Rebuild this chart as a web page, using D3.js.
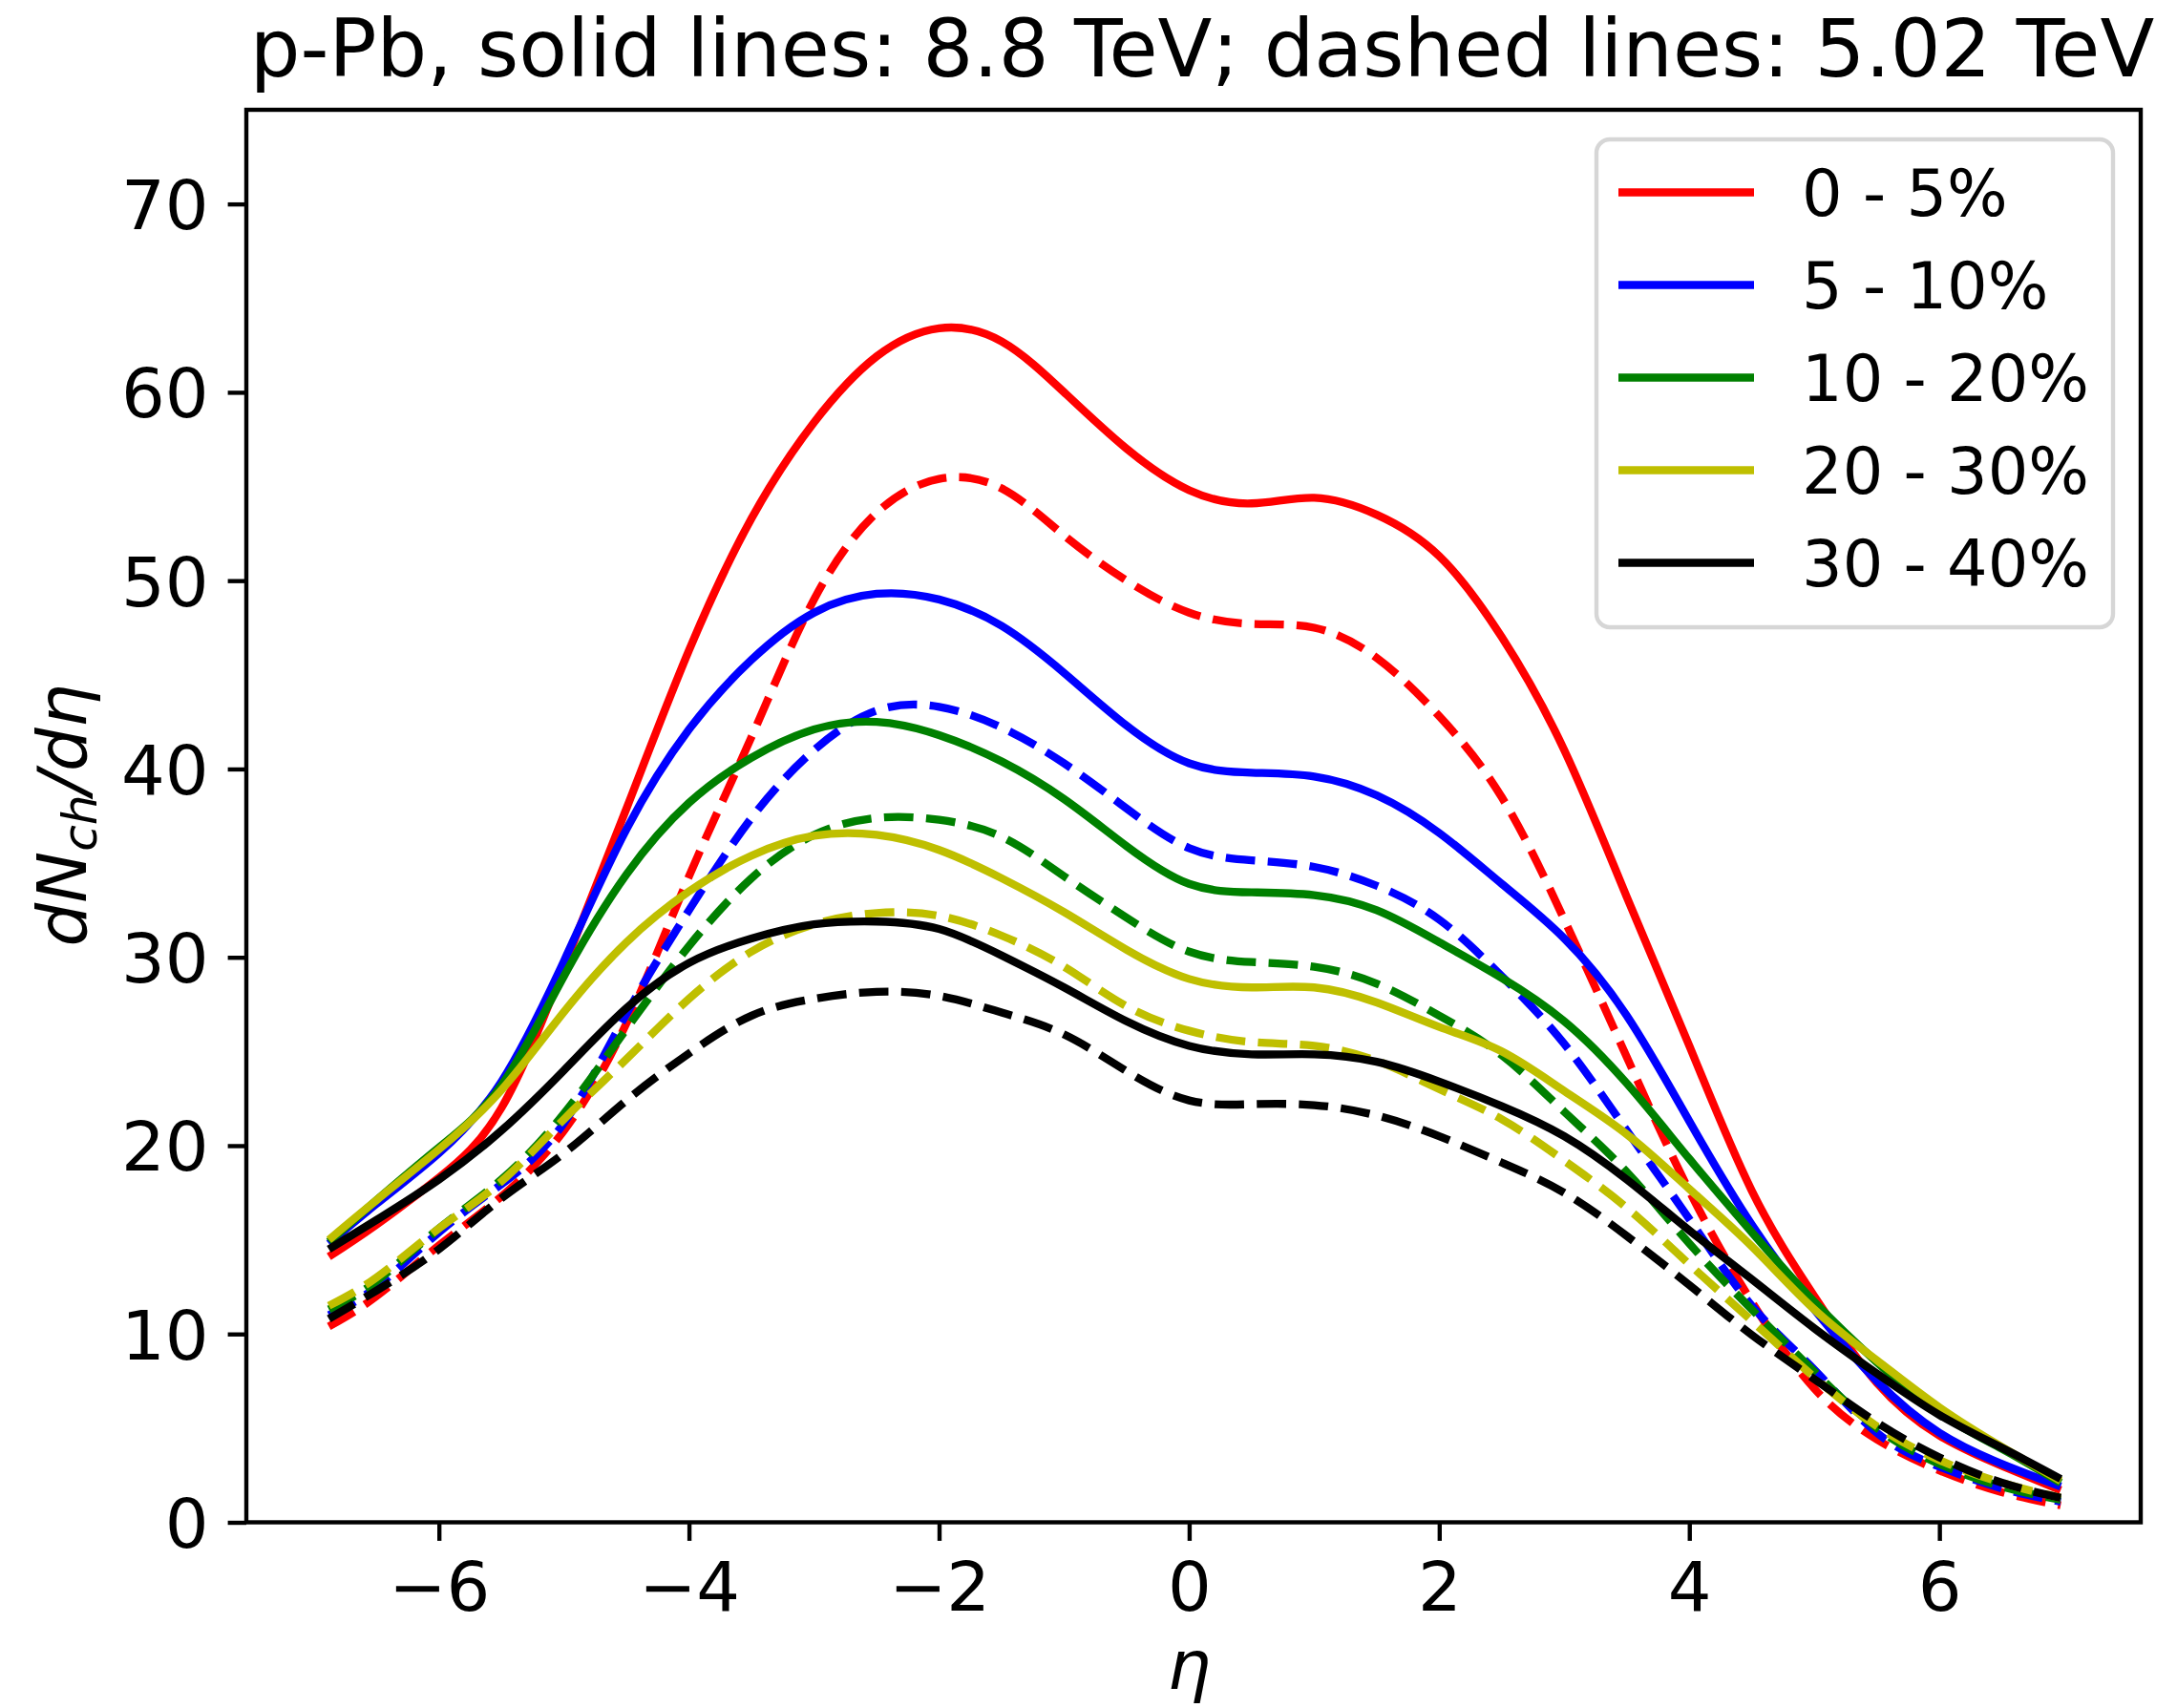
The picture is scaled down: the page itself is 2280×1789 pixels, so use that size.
<!DOCTYPE html>
<html>
<head>
<meta charset="utf-8">
<script src="https://cdn.jsdelivr.net/npm/d3@7"></script>
<style>
  html, body { margin: 0; padding: 0; background: #fff; }
  svg { display: block; }
</style>
</head>
<body>
<svg id="chart" width="2280" height="1789"></svg>
<script>
// ---- data ----
const eta = [-6.88, -6.5, -6, -5.5, -5, -4.5, -4, -3.5, -3, -2.5, -2, -1.5, -1, -0.5, 0, 0.5, 1, 1.5, 2, 2.5, 3, 3.5, 4, 4.5, 5, 5.5, 6, 6.5, 6.97];

const labels = ["0 - 5%", "5 - 10%", "10 - 20%", "20 - 30%", "30 - 40%"];
const colors = ["#ff0000", "#0000ff", "#008000", "#bfbf00", "#000000"];

// solid lines: 8.8 TeV
const red88    = [14.1, 15.8, 18.3, 22.0, 29.5, 37.9, 46.3, 53.3, 58.4, 61.9, 63.4, 62.7, 60.0, 57.0, 54.8, 54.1, 54.4, 53.5, 51.3, 47.0, 41.0, 33.2, 25.3, 17.6, 12.0, 7.4, 4.6, 3.0, 1.7];
const blue88   = [14.8, 16.9, 19.6, 23.4, 29.8, 36.8, 42.1, 45.8, 48.3, 49.3, 49.0, 47.6, 45.1, 42.3, 40.3, 39.8, 39.6, 38.6, 36.6, 33.9, 31.0, 26.9, 21.3, 15.8, 11.3, 7.5, 4.75, 3.1, 1.9];
const green88  = [14.9, 17.1, 19.9, 23.2, 29.0, 34.4, 38.2, 40.6, 42.1, 42.5, 41.8, 40.4, 38.4, 35.9, 33.9, 33.45, 33.3, 32.5, 30.8, 28.9, 26.6, 23.3, 19.3, 15.4, 11.7, 8.5, 5.8, 3.9, 2.1];
const yellow88 = [15.0, 17.1, 19.8, 22.95, 27.1, 30.8, 33.5, 35.4, 36.45, 36.5, 35.7, 34.2, 32.4, 30.4, 28.85, 28.4, 28.4, 27.6, 26.3, 25.0, 22.9, 20.6, 17.7, 14.65, 11.3, 8.6, 6.1, 4.0, 2.2];
const black88  = [14.5, 16.05, 18.2, 20.8, 24.0, 27.3, 29.7, 31.0, 31.75, 31.9, 31.5, 30.1, 28.4, 26.6, 25.3, 24.85, 24.85, 24.45, 23.4, 22.1, 20.5, 18.2, 15.5, 12.9, 10.3, 7.9, 5.7, 3.95, 2.3];

// dashed lines: 5.02 TeV
const red502    = [10.4, 12.0, 14.7, 17.3, 20.8, 26.5, 34.3, 41.7, 49.0, 53.6, 55.4, 54.9, 52.4, 50.0, 48.3, 47.7, 47.5, 45.9, 42.8, 38.5, 32.0, 24.7, 17.6, 11.7, 7.1, 4.4, 2.75, 1.6, 0.9];
const blue502   = [11.0, 12.5, 15.4, 17.95, 21.2, 27.0, 32.5, 37.4, 41.0, 43.1, 43.3, 42.2, 40.3, 37.9, 35.8, 35.15, 34.8, 33.8, 32.0, 29.0, 25.4, 20.8, 16.1, 11.5, 8.1, 4.75, 2.95, 1.8, 1.1];
const green502  = [11.3, 12.8, 15.6, 18.2, 21.7, 26.2, 30.6, 34.2, 36.5, 37.4, 37.3, 36.4, 34.3, 32.1, 30.3, 29.75, 29.5, 28.6, 26.9, 24.8, 21.8, 18.6, 14.8, 11.3, 8.0, 5.0, 3.1, 1.9, 1.2];
const yellow502 = [11.5, 13.0, 15.6, 18.1, 21.4, 24.6, 27.8, 30.3, 31.75, 32.35, 32.2, 31.15, 29.5, 27.4, 26.1, 25.5, 25.3, 24.5, 23.0, 21.4, 19.2, 16.7, 13.7, 10.7, 7.7, 5.1, 3.3, 2.1, 1.3];
const black502  = [10.8, 12.3, 14.5, 17.2, 19.6, 22.4, 24.9, 26.9, 27.8, 28.17, 27.95, 27.07, 25.9, 23.95, 22.4, 22.2, 22.15, 21.6, 20.5, 19.1, 17.5, 15.2, 12.6, 9.95, 7.6, 5.3, 3.45, 2.1, 1.3];

const solid = [red88, blue88, green88, yellow88, black88];
const dashed = [red502, blue502, green502, yellow502, black502];

const xTicks = [-6, -4, -2, 0, 2, 4, 6];
const yTicks = [0, 10, 20, 30, 40, 50, 60, 70];

const titleText = "p-Pb, solid lines: 8.8 TeV; dashed lines: 5.02 TeV";

// ---- layout ----
const W = 2280, H = 1789;
const plot = { left: 258, right: 2242, top: 115, bottom: 1594.5 };
const FONT = "DejaVu Sans, Liberation Sans, sans-serif";
const FS = 72;
const FS_TITLE = 83;
const FS_LEG = 67;
const LW = 8.33;
const SPINE = 4.4;
const TICK = 19.4;

const x = d3.scaleLinear().domain([-7.54, 7.61]).range([plot.left, plot.right]);
const y = d3.scaleLinear().domain([0, 75]).range([plot.bottom, plot.top]);

const svg = d3.select("#chart");
svg.append("rect").attr("width", W).attr("height", H).attr("fill", "#fff");

// clip
svg.append("defs").append("clipPath").attr("id", "clip")
  .append("rect").attr("x", plot.left).attr("y", plot.top)
  .attr("width", plot.right - plot.left).attr("height", plot.bottom - plot.top);

const fmt = d => (d < 0 ? "\u2212" + Math.abs(d) : String(d));

// x axis
const gx = svg.append("g").attr("transform", `translate(0,${plot.bottom})`)
  .call(d3.axisBottom(x).tickValues(xTicks).tickFormat(fmt).tickSize(TICK).tickSizeOuter(0).tickPadding(22));
gx.select(".domain").remove();
gx.selectAll(".tick line").attr("stroke", "#000").attr("stroke-width", SPINE);
gx.selectAll(".tick text").attr("font-family", FONT).attr("font-size", FS).attr("fill", "#000")
  .attr("dy", "0.71em");

// y axis
const gy = svg.append("g").attr("transform", `translate(${plot.left},0)`)
  .call(d3.axisLeft(y).tickValues(yTicks).tickFormat(fmt).tickSize(TICK).tickSizeOuter(0).tickPadding(20));
gy.select(".domain").remove();
gy.selectAll(".tick line").attr("stroke", "#000").attr("stroke-width", SPINE);
gy.selectAll(".tick text").attr("font-family", FONT).attr("font-size", FS).attr("fill", "#000")
  .attr("dy", "0.36em");

// lines
const line = d3.line()
  .x((d, i) => x(eta[i]))
  .y(d => y(d))
  .curve(d3.curveNatural);

const gLines = svg.append("g").attr("clip-path", "url(#clip)");
for (let k = 0; k < 5; k++) {
  gLines.append("path").attr("d", line(solid[k]))
    .attr("fill", "none").attr("stroke", colors[k]).attr("stroke-width", LW)
    .attr("stroke-linejoin", "round");
  gLines.append("path").attr("d", line(dashed[k]))
    .attr("fill", "none").attr("stroke", colors[k]).attr("stroke-width", LW)
    .attr("stroke-dasharray", "30.8,13.3").attr("stroke-linejoin", "round");
}

// frame
svg.append("rect").attr("x", plot.left).attr("y", plot.top)
  .attr("width", plot.right - plot.left).attr("height", plot.bottom - plot.top)
  .attr("fill", "none").attr("stroke", "#000").attr("stroke-width", SPINE)
  .attr("stroke-linejoin", "miter");

// title
svg.append("text").attr("x", 1259).attr("y", 80)
  .attr("text-anchor", "middle").attr("font-family", FONT).attr("font-size", FS_TITLE)
  .attr("fill", "#000").text(titleText);

// x label
svg.append("text").attr("x", x(0)).attr("y", 1769)
  .attr("text-anchor", "middle").attr("font-family", FONT).attr("font-size", FS)
  .attr("font-style", "italic").attr("fill", "#000").text("\u03b7");

// y label
const yl = svg.append("text").attr("transform", `translate(90,854) rotate(-90)`)
  .attr("text-anchor", "middle").attr("font-family", FONT).attr("font-size", FS)
  .attr("font-style", "italic").attr("fill", "#000");
yl.append("tspan").text("dN");
yl.append("tspan").attr("font-size", FS * 0.7).attr("dy", 11).text("ch");
yl.append("tspan").attr("dy", -11).text("/d\u03b7");

// legend
const leg = { x: 1672, y: 146, w: 541, h: 511 };
svg.append("rect").attr("x", leg.x).attr("y", leg.y).attr("width", leg.w).attr("height", leg.h)
  .attr("rx", 14).attr("ry", 14).attr("fill", "#fff").attr("fill-opacity", 0.8)
  .attr("stroke", "#d6d6d6").attr("stroke-width", 4.4);
const rowY = d3.range(5).map(i => 201.5 + i * 97);
const gLeg = svg.append("g");
labels.forEach((lab, i) => {
  gLeg.append("line").attr("x1", 1695).attr("x2", 1837).attr("y1", rowY[i]).attr("y2", rowY[i])
    .attr("stroke", colors[i]).attr("stroke-width", LW);
  gLeg.append("text").attr("x", 1887).attr("y", rowY[i]).attr("dy", "0.36em")
    .attr("font-family", FONT).attr("font-size", FS_LEG).attr("fill", "#000").text(lab);
});
</script>
</body>
</html>
